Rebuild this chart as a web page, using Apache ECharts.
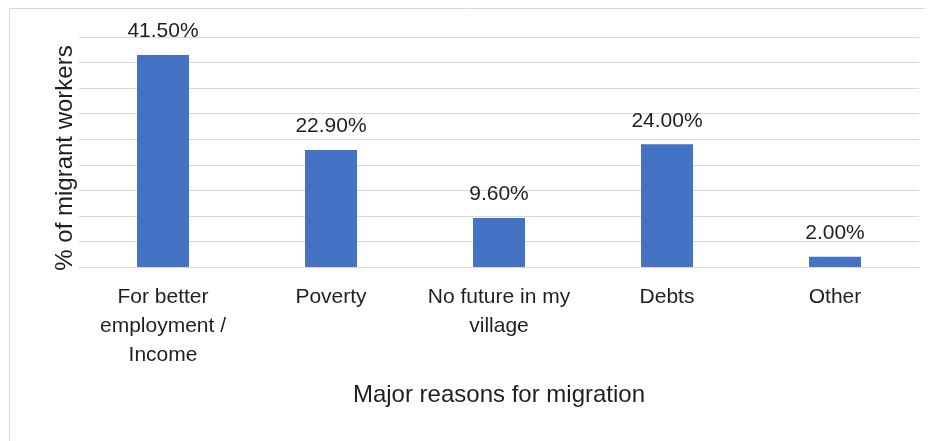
<!DOCTYPE html>
<html>
<head>
<meta charset="utf-8">
<script src="https://cdn.jsdelivr.net/npm/echarts@6/dist/echarts.min.js"></script>
<style>
  html, body { margin: 0; padding: 0; background: #fff; }
  #chart { width: 935px; height: 441px; }
</style>
</head>
<body>
<div id="chart"></div>
<script>
// Reasons given for migrating, share of migrant workers (%)
const categories = [
  'For better\nemployment /\nIncome',
  'Poverty',
  'No future in my\nvillage',
  'Debts',
  'Other'
];
const shares = [41.5, 22.9, 9.6, 24.0, 2.0];

const xTitle = 'Major reasons for migration';
const yTitle = '% of migrant workers';

const FONT = 'Liberation Sans';
const TEXT = '#1f1f1f';
const GRID = '#d9d9d9';

const chart = echarts.init(document.getElementById('chart'), null, { renderer: 'canvas' });

chart.setOption({
  animation: false,
  backgroundColor: '#ffffff',
  textStyle: { fontFamily: FONT, color: TEXT },
  graphic: [
    // chart-area frame (top and left edges)
    { type: 'line', silent: true, shape: { x1: 9.5, y1: 8.5, x2: 925, y2: 8.5 },
      style: { stroke: GRID, lineWidth: 1 } },
    { type: 'line', silent: true, shape: { x1: 9.5, y1: 8.5, x2: 9.5, y2: 441 },
      style: { stroke: GRID, lineWidth: 1 } }
  ],
  grid: { left: 79, right: 16, top: 37, bottom: 174, containLabel: false },
  xAxis: {
    type: 'category',
    data: categories,
    axisTick: { show: false },
    axisLine: { show: true, lineStyle: { color: GRID, width: 1 } },
    axisLabel: {
      interval: 0,
      margin: 16,
      fontSize: 21,
      lineHeight: 29,
      color: TEXT,
      fontFamily: FONT,
      align: 'center'
    },
    name: xTitle,
    nameLocation: 'middle',
    nameGap: 116,
    nameTextStyle: { fontSize: 24, color: TEXT, fontFamily: FONT }
  },
  yAxis: {
    type: 'value',
    min: 0,
    max: 45,
    interval: 5,
    axisLabel: { show: false },
    axisTick: { show: false },
    axisLine: { show: false },
    splitLine: { show: true, lineStyle: { color: GRID, width: 1 } },
    name: yTitle,
    nameLocation: 'middle',
    nameGap: 2,
    nameRotate: 90,
    nameTextStyle: { fontSize: 24, color: TEXT, fontFamily: FONT, padding: [0, 12, 0, 0] }
  },
  series: [{
    type: 'bar',
    data: shares,
    barWidth: 52,
    itemStyle: { color: '#4472C4' },
    label: {
      show: true,
      position: 'top',
      distance: 13,
      fontSize: 21,
      color: TEXT,
      fontFamily: FONT,
      formatter: p => p.value.toFixed(2) + '%'
    }
  }]
});
</script>
</body>
</html>
